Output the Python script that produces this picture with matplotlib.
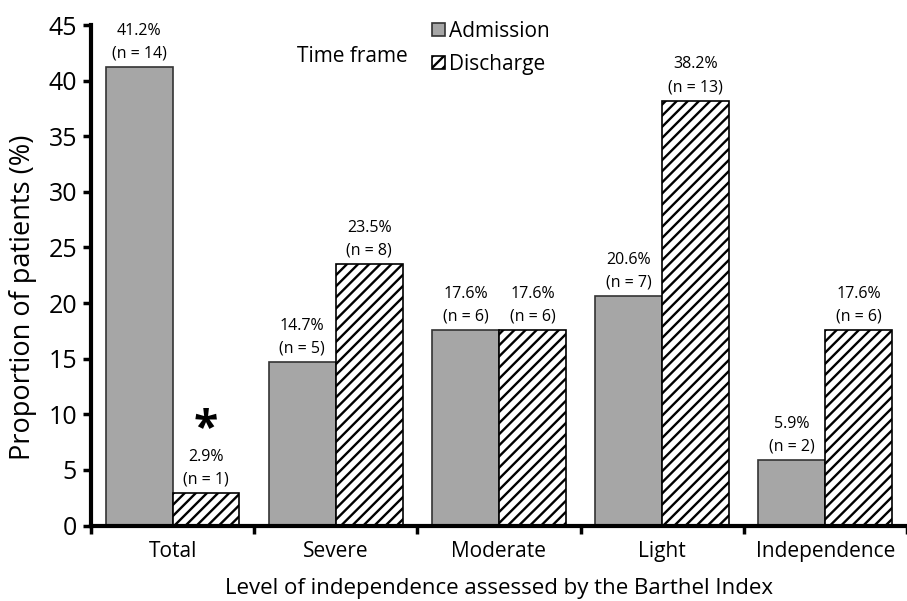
import matplotlib.pyplot as plt
import numpy as np

categories = ["Total", "Severe", "Moderate", "Light", "Independence"]
admission = [41.2, 14.7, 17.6, 20.6, 5.9]
discharge = [2.9, 23.5, 17.6, 38.2, 17.6]
admission_n = [14, 5, 6, 7, 2]
discharge_n = [1, 8, 6, 13, 6]
y_ticks = [0, 5, 10, 15, 20, 25, 30, 35, 40, 45]

plt.rcParams['font.family'] = ['Open Sans', 'DejaVu Sans']
plt.rcParams['hatch.linewidth'] = 1.7

fig = plt.figure(figsize=(9.07, 6.01), dpi=100)
ax = fig.add_axes([0.1003, 0.1256, 0.8997, 0.8328])

x = np.arange(1, len(categories) + 1)
w = 0.41
ax.bar(x - w / 2, admission, w, color='#a6a6a6', edgecolor='#333333', linewidth=1.2,
       label='Admission')
ax.bar(x + w / 2, discharge, w, color='white', edgecolor='black', linewidth=1.2,
       hatch='///', label='Discharge')

# value labels above bars
for xi, v, n in zip(x - w / 2, admission, admission_n):
    ax.annotate(f"{v}%\n(n = {n})", (xi, v), xytext=(0, 4), textcoords='offset points',
                ha='center', va='bottom', fontsize=11.5, linespacing=1.55)
for xi, v, n in zip(x + w / 2, discharge, discharge_n):
    ax.annotate(f"{v}%\n(n = {n})", (xi, v), xytext=(0, 4), textcoords='offset points',
                ha='center', va='bottom', fontsize=11.5, linespacing=1.55)

# significance mark on Total discharge
ax.annotate("*", (x[0] + w / 2, discharge[0]), xytext=(0, 30), textcoords='offset points',
            ha='center', va='bottom', fontsize=32, fontweight='bold')

ax.set_xlim(0.5, 0.5 + (907 - 92) / 164)
ax.set_ylim(0, 45)
ax.set_yticks(y_ticks)
ax.tick_params(axis='y', labelsize=18, width=2.5, length=6, direction='out', pad=4)
ax.set_xticks(x)
ax.set_xticklabels(categories, fontsize=15)
ax.tick_params(axis='x', which='major', length=0, pad=11)
ax.set_xticks(np.arange(0.5, len(categories) + 1, 1.0), minor=True)
ax.tick_params(axis='x', which='minor', length=6, width=2.5, direction='out')

for side in ['top', 'right']:
    ax.spines[side].set_visible(False)
for side in ['left', 'bottom']:
    ax.spines[side].set_linewidth(3)

ax.set_ylabel("Proportion of patients (%)", fontsize=19.5)
ax.yaxis.set_label_coords(-0.066, 0.456)
ax.set_xlabel("Level of independence assessed by the Barthel Index", fontsize=16, labelpad=12)

leg = ax.legend(loc='upper left', bbox_to_anchor=(0.395, 1.045), frameon=False, fontsize=15,
                handlelength=0.6, handleheight=0.6, handletextpad=0.2, labelspacing=0.55)
ax.text(0.253, 0.938, "Time frame", transform=ax.transAxes, fontsize=15, va='center')

fig.savefig("out.png", dpi=100)
